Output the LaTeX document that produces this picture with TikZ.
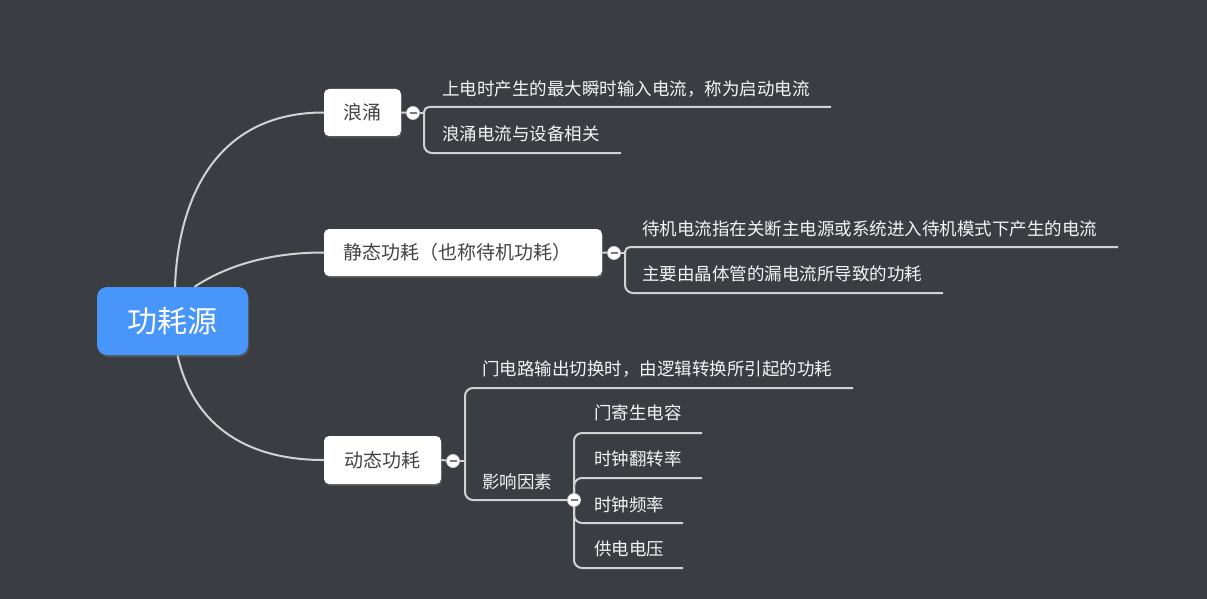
\documentclass[tikz,border=0pt]{standalone}
\usepackage{fontspec}
\setmainfont{Noto Sans CJK SC}
\usetikzlibrary{shadows,backgrounds}
\definecolor{bg}{HTML}{3A3D42}
\definecolor{linkc}{HTML}{D2D2D2}
\definecolor{rootc}{HTML}{4896FA}
\definecolor{topictext}{HTML}{444444}
\definecolor{subtext}{HTML}{F5F5F5}
\definecolor{minusc}{HTML}{7A7A7A}
\tikzset{
  rootbox/.style={fill=rootc,rounded corners=10pt,inner sep=0pt,minimum width=151pt,minimum height=68pt,
    text=white,font=\fontsize{30}{34}\selectfont,
    drop shadow={opacity=0.35,shadow xshift=1pt,shadow yshift=-2pt}},
  topicbox/.style={fill=white,rounded corners=5pt,inner sep=0pt,minimum height=47pt,
    text=topictext,font=\fontsize{19}{22}\selectfont,
    drop shadow={opacity=0.35,shadow xshift=1pt,shadow yshift=-2pt}},
  subtext/.style={inner sep=0pt,anchor=west,text=subtext,font=\fontsize{17.5}{20}\selectfont},
  collapse/.style={circle,fill=white,draw=linkc,line width=0.8pt,inner sep=0pt,minimum size=13pt},
  minusbar/.style={draw=minusc,line width=2.4pt},
  link/.style={draw=linkc,line width=2pt},
  sublink/.style={draw=linkc,line width=2pt},
}
\begin{document}
\begin{tikzpicture}[x=1pt,y=-1pt]
\useasboundingbox (0,0) rectangle (1207,599);
% main nodes
\node[rootbox] (root) at (172.5,321) {功耗源};
\node[topicbox,minimum width=77pt] (surge) at (362.5,112.5) {浪涌};
\node[topicbox,inner xsep=19pt,text width=240pt,align=left] (static) at (463,252.5) {静态功耗（也称待机功耗）};
\node[topicbox,minimum width=117pt,minimum height=48pt] (dyn) at (382.5,460) {动态功耗};
% collapse buttons
\node[collapse] (c1) at (413,113) {};
\node[collapse] (c2) at (614,253) {};
\node[collapse] (c3) at (453,461) {};
\node[collapse] (c4) at (574,500) {};
\foreach \c in {c1,c2,c3,c4}{
  \draw[minusbar] ([xshift=-3.5pt]\c.center) -- ([xshift=3.5pt]\c.center);
}
% sub texts
\node[subtext] (t11) at (442,89) {上电时产生的最大瞬时输入电流，称为启动电流};
\node[subtext] (t12) at (442,134) {浪涌电流与设备相关};
\node[subtext] (t21) at (642,229) {待机电流指在关断主电源或系统进入待机模式下产生的电流};
\node[subtext] (t22) at (642,274) {主要由晶体管的漏电流所导致的功耗};
\node[subtext] (t31) at (482,369) {门电路输出切换时，由逻辑转换所引起的功耗};
\node[subtext] (t32) at (482,482) {影响因素};
\node[subtext] (t41) at (594,413) {门寄生电容};
\node[subtext] (t42) at (594,459) {时钟翻转率};
\node[subtext] (t43) at (594,505) {时钟频率};
\node[subtext] (t44) at (594,549) {供电电压};
% line ends
\coordinate (e11) at (831,107);
\coordinate (e12) at (621,153);
\coordinate (e21) at (1118,247);
\coordinate (e22) at (943,293);
\coordinate (e31) at (853,388);
\coordinate (e41) at (702,433);
\coordinate (e42) at (702,478);
\coordinate (e43) at (683,523);
\coordinate (e44) at (683,568);
\begin{scope}[on background layer]
\fill[bg] (0,0) rectangle (1207,599);
% root to topics
\draw[link] ([xshift=2.5pt]root.north) .. controls (178,200) and (215,112.5) .. (surge.west);
\draw[link] ([xshift=22pt]root.north) .. controls (232,262) and (278,252.5) .. (static.west);
\draw[link] ([xshift=5pt]root.south) .. controls (192,420) and (240,460) .. (dyn.west);
% topics to buttons
\draw[link] (surge.east) -- (c1);
\draw[link] (static.east) -- (c2);
\draw[link] (dyn.east) -- (c3);
% surge bracket
\draw[sublink] (c1.center) -- ++(11,0) coordinate (b1);
\draw[sublink,rounded corners=5pt] (b1) |- (e11);
\draw[sublink,rounded corners=8pt] (b1) |- (e12);
% static bracket
\draw[sublink] (c2.center) -- ++(11,0) coordinate (b2);
\draw[sublink,rounded corners=5pt] (b2) |- (e21);
\draw[sublink,rounded corners=8pt] (b2) |- (e22);
% dynamic bracket
\draw[sublink] (c3.center) -- ++(12,0) coordinate (b3);
\draw[sublink,rounded corners=8pt] (b3) |- (e31);
\draw[sublink,rounded corners=8pt] (b3) |- (c4.center);
% factors bracket
\draw[sublink,rounded corners=8pt] (c4.center) |- (e41);
\draw[sublink,rounded corners=8pt] (c4.center) |- (e42);
\draw[sublink,rounded corners=8pt] (c4.center) |- (e43);
\draw[sublink,rounded corners=8pt] (c4.center) |- (e44);
\end{scope}
\end{tikzpicture}
\end{document}
